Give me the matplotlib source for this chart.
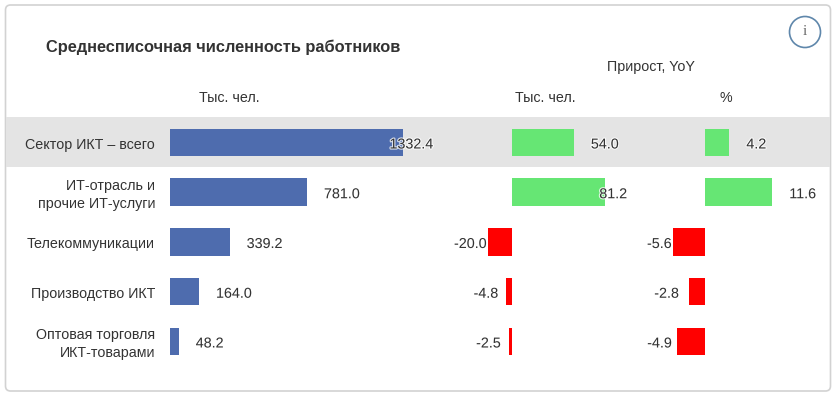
#!/usr/bin/env python3
"""Average headcount in the ICT sector: level and year-on-year growth."""
import matplotlib

matplotlib.use("Agg")
import matplotlib.patheffects as pe
import matplotlib.pyplot as plt
from matplotlib.patches import Circle, FancyBboxPatch

plt.rcParams["font.family"] = ["Liberation Sans", "DejaVu Sans"]

W, H = 840, 396
TEXT = "#333333"
FS = 10.3

categories = [
    "Сектор ИКТ – всего",
    "ИТ-отрасль и\nпрочие ИТ-услуги",
    "Телекоммуникации",
    "Производство ИКТ",
    "Оптовая торговля\nИКТ-товарами",
]
headcount = [1332.4, 781.0, 339.2, 164.0, 48.2]
growth_abs = [54.0, 81.2, -20.0, -4.8, -2.5]
growth_pct = [4.2, 11.6, -5.6, -2.8, -4.9]

# gap in px between bar end and near edge of the label
gaps_headcount = [-14, 17, 17, 17, 17]
gaps_abs = [17, -6, 2, 8, 8]
gaps_pct = [17, 17, 1, 10, 5]

ROW_TOP = 117.6
ROW_H = 49.75
BAR_H = 27.5 / ROW_H


def add_panel(fig, zero_px, scale, left_px, right_px):
    ax = fig.add_axes([
        left_px / W,
        1 - (ROW_TOP + 5 * ROW_H) / H,
        (right_px - left_px) / W,
        5 * ROW_H / H,
    ])
    ax.set_xlim((left_px - zero_px) / scale, (right_px - zero_px) / scale)
    ax.set_ylim(4.5, -0.5)
    ax.axis("off")
    ax.patch.set_alpha(0)
    return ax


def draw_bars(ax, values, gaps, pos_color, neg_color, fmt="{:.1f}"):
    colors = [pos_color if v >= 0 else neg_color for v in values]
    ax.barh(range(len(values)), values, height=BAR_H, color=colors)
    for i, (value, gap) in enumerate(zip(values, gaps)):
        sign = 1 if value >= 0 else -1
        ax.annotate(
            fmt.format(value),
            (value, i),
            xytext=(sign * gap * 72 / 100, -2 * 72 / 100),
            textcoords="offset points",
            ha="left" if value >= 0 else "right",
            va="center",
            fontsize=FS,
            color=TEXT,
            annotation_clip=False,
            path_effects=[pe.withStroke(linewidth=1.6, foreground="white", alpha=0.8)],
        )


def main():
    fig = plt.figure(figsize=(W / 100, H / 100), dpi=100, facecolor="white")

    # background layer in pixel coordinates
    bg = fig.add_axes([0, 0, 1, 1])
    bg.set_xlim(0, W)
    bg.set_ylim(H, 0)
    bg.axis("off")
    bg.add_patch(FancyBboxPatch(
        (5.5, 5), 825, 386,
        boxstyle="round,pad=0,rounding_size=5",
        facecolor="white", edgecolor="#d2d2d2", linewidth=1.2,
    ))
    bg.fill_between([6, 830], 116.7, 166.7, color="#e4e4e4", linewidth=0)
    bg.add_patch(Circle((805, 32), 15.5, facecolor="white", edgecolor="#5f87ab", linewidth=1.2))
    bg.text(805, 31.5, "i", family=["Liberation Serif"], fontsize=11, color="#666666",
            ha="center", va="center")

    bg.text(46, 47, "Среднесписочная численность работников", fontsize=11.75,
            fontweight="bold", color=TEXT, va="center", ha="left")
    bg.text(650.5, 66.5, "Прирост, YoY", fontsize=FS, color=TEXT, ha="center", va="center")
    bg.text(229.5, 97.5, "Тыс. чел.", fontsize=FS, color=TEXT, ha="center", va="center")
    bg.text(545.5, 97.5, "Тыс. чел.", fontsize=FS, color=TEXT, ha="center", va="center")
    bg.text(725.5, 97.5, "%", fontsize=FS, color=TEXT, ha="center", va="center")

    for i, name in enumerate(categories):
        bg.text(155, ROW_TOP + (i + 0.5) * ROW_H + 2.5, name, fontsize=FS, color=TEXT,
                ha="right", va="center", linespacing=1.34)

    blue = "#4e6cae"
    green = "#66e674"
    red = "#ff0000"
    draw_bars(add_panel(fig, 170.3, 0.175, 165, 440), headcount, gaps_headcount, blue, blue)
    draw_bars(add_panel(fig, 511.5, 1.155, 445, 640), growth_abs, gaps_abs, green, red)
    draw_bars(add_panel(fig, 705.0, 5.8, 645, 825), growth_pct, gaps_pct, green, red)

    fig.savefig("out.png", dpi=100)
    plt.close(fig)


if __name__ == "__main__":
    main()
